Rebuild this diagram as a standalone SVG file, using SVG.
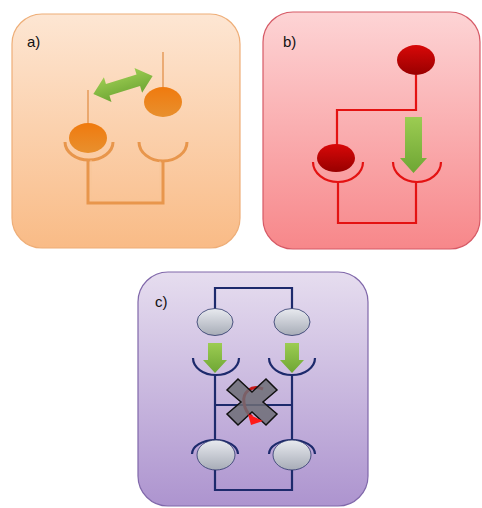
<svg xmlns="http://www.w3.org/2000/svg" width="482" height="508" viewBox="0 0 482 508">
  <defs>
    <linearGradient id="bgA" x1="0" y1="0" x2="0" y2="1">
      <stop offset="0" stop-color="#fde6d3"/>
      <stop offset="1" stop-color="#f9bb86"/>
    </linearGradient>
    <linearGradient id="bgB" x1="0" y1="0" x2="0" y2="1">
      <stop offset="0" stop-color="#fdd4d5"/>
      <stop offset="1" stop-color="#f7878a"/>
    </linearGradient>
    <linearGradient id="bgC" x1="0" y1="0" x2="0" y2="1">
      <stop offset="0" stop-color="#e6ddef"/>
      <stop offset="1" stop-color="#ad94cf"/>
    </linearGradient>
    <linearGradient id="ballOrange" x1="0" y1="0" x2="0" y2="1">
      <stop offset="0" stop-color="#f07a0e"/>
      <stop offset="1" stop-color="#e8902e"/>
    </linearGradient>
    <linearGradient id="ballRed" x1="0" y1="0" x2="0" y2="1">
      <stop offset="0" stop-color="#d80808"/>
      <stop offset="1" stop-color="#980000"/>
    </linearGradient>
    <linearGradient id="ballGray" x1="0" y1="0" x2="0" y2="1">
      <stop offset="0" stop-color="#e8eaef"/>
      <stop offset="1" stop-color="#a7acb7"/>
    </linearGradient>
    <linearGradient id="green" x1="0" y1="0" x2="0" y2="1">
      <stop offset="0" stop-color="#9ccc52"/>
      <stop offset="1" stop-color="#6ea634"/>
    </linearGradient>
  </defs>
  <style>
    .label { font-family: "Liberation Sans", Arial, sans-serif; font-size: 15px; fill: #111; }
    .panel { stroke-width: 1.2; }
    .orange { fill: none; stroke: #e8964c; stroke-width: 3; }
    .orangeIn { fill: none; stroke: #f8c597; stroke-width: 0.8; }
    .thinOrange { fill: none; stroke: #e08a40; stroke-width: 1.2; }
    .red { fill: none; stroke: #e41212; stroke-width: 2.2; }
    .navy { fill: none; stroke: #1d2a6c; stroke-width: 2.2; }
    .arrow { fill: url(#green); }
  </style>

  <!-- panel a: exchange between two sites -->
  <g id="panel-a">
    <rect class="panel" x="12" y="14" width="228" height="234" rx="30" fill="url(#bgA)" stroke="#eeae78"/>
    <text class="label" x="27" y="47">a)</text>
  </g>
  <g id="connectors-a">
    <path class="thinOrange" d="M88,90 V124"/>
    <path class="thinOrange" d="M163,52 V87"/>
    <path class="orange" d="M65,142 A24,18 0 0 0 113,142"/>
    <path class="orange" d="M139,142 A24,19 0 0 0 187,142"/>
    <path class="orange" d="M88,160 V203 H163 V161"/>
    <path class="orangeIn" d="M91,160 V200 H160 V161"/>
  </g>
  <g id="a-ball-left"><ellipse cx="88" cy="138" rx="19" ry="15" fill="url(#ballOrange)"/></g>
  <g id="a-ball-right"><ellipse cx="163" cy="102" rx="19" ry="15" fill="url(#ballOrange)"/></g>
  <g id="a-double-arrow">
    <polygon class="arrow" transform="translate(123,85) rotate(-17)"
      points="-31,0 -16,-13 -16,-6 16,-6 16,-13 31,0 16,13 16,6 -16,6 -16,13"/>
  </g>

  <!-- panel b: transfer down to an empty site -->
  <g id="panel-b">
    <rect class="panel" x="263" y="12" width="217" height="237" rx="30" fill="url(#bgB)" stroke="#d65a66"/>
    <text class="label" x="283" y="47">b)</text>
  </g>
  <g id="connectors-b">
    <path class="red" d="M416,75 V110 H337 V145"/>
    <path class="red" d="M313,162 A25,20 0 0 0 363,162"/>
    <path class="red" d="M393,162 A24,20 0 0 0 441,162"/>
    <path class="red" d="M338,182 V223 H416 V182"/>
  </g>
  <g id="b-ball-top"><ellipse cx="416" cy="60" rx="19" ry="15" fill="url(#ballRed)"/></g>
  <g id="b-ball-left"><ellipse cx="336" cy="158" rx="19" ry="14" fill="url(#ballRed)"/></g>
  <g id="b-arrow">
    <polygon class="arrow" points="405,117 422,117 422,158 427,158 413.5,173 400,158 405,158"/>
  </g>

  <!-- panel c: blocked exchange -->
  <g id="panel-c">
    <rect class="panel" x="138" y="272" width="230" height="234" rx="30" fill="url(#bgC)" stroke="#8068aa"/>
    <text class="label" x="155" y="307">c)</text>
  </g>
  <g id="connectors-c">
    <path class="navy" d="M215,310 V288 H292 V310"/>
    <path class="navy" d="M193,358 A23,17 0 0 0 239,358"/>
    <path class="navy" d="M269,358 A23,17 0 0 0 315,358"/>
    <path class="navy" d="M215,375 V440"/>
    <path class="navy" d="M292,375 V440"/>
    <path class="navy" d="M215,405 H292"/>
    <path class="navy" d="M192,454 A23,14 0 0 1 238,454"/>
    <path class="navy" d="M269,454 A23,14 0 0 1 315,454"/>
    <path class="navy" d="M215,470 V490 H292 V470"/>
  </g>
  <g id="c-ball-top-left"><ellipse cx="215" cy="322" rx="18" ry="13.5" fill="url(#ballGray)" stroke="#2a3568" stroke-width="0.8"/></g>
  <g id="c-ball-top-right"><ellipse cx="292" cy="322" rx="18" ry="13.5" fill="url(#ballGray)" stroke="#2a3568" stroke-width="0.8"/></g>
  <g id="c-ball-bottom-left"><ellipse cx="216" cy="455" rx="19" ry="15" fill="url(#ballGray)" stroke="#2a3568" stroke-width="0.8"/></g>
  <g id="c-ball-bottom-right"><ellipse cx="292" cy="455" rx="19" ry="15" fill="url(#ballGray)" stroke="#2a3568" stroke-width="0.8"/></g>
  <g id="c-arrow-left">
    <polygon class="arrow" points="208,343 222,343 222,360 227,360 215,373 203,360 208,360"/>
  </g>
  <g id="c-arrow-right">
    <polygon class="arrow" points="285,343 299,343 299,360 304,360 292,373 280,360 285,360"/>
  </g>
  <g id="c-cross">
    <path d="M263,389 C251,384 242,393 244,403 C245,410 248,414 252,417" fill="none" stroke="#c81818" stroke-width="3"/>
    <polygon transform="translate(252,402)" fill="#6d6d76" fill-opacity="0.85" stroke="#111" stroke-width="1.5"
      points="-25,-12 -14,-23 0,-10 14,-23 25,-12 11,0 25,12 14,23 0,10 -14,23 -25,12 -11,0"/>
    <path d="M248,414 L263,421 L251,425 Z" fill="#ff1a1a"/>
  </g>
</svg>
